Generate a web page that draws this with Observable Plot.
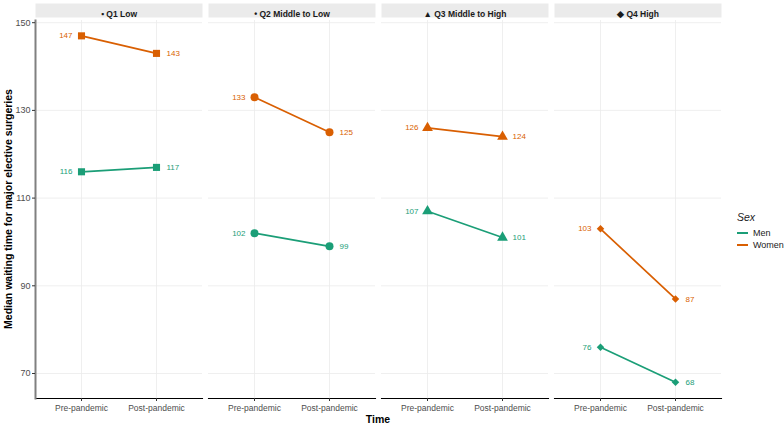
<!DOCTYPE html>
<html>
<head>
<meta charset="utf-8">
<script src="https://cdn.jsdelivr.net/npm/d3@7"></script>
<script src="https://cdn.jsdelivr.net/npm/@observablehq/plot@0.6"></script>
<style>
  body { margin: 0; background: #fff; font-family: "Liberation Sans", Arial, sans-serif; }
  #wrap { position: relative; width: 784px; height: 428px; }
  #wrap svg { position: absolute; left: 0; top: 0; }
  .ytitle { position: absolute; left: 8px; top: 209px; transform: translate(-50%, -50%) rotate(-90deg);
            font-weight: bold; font-size: 10.5px; white-space: nowrap; color: #000; }
  .xtitle { position: absolute; left: 378px; top: 419px; transform: translate(-50%, -50%);
            font-weight: bold; font-size: 10.5px; color: #000; }
  .legend { position: absolute; left: 737px; top: 211px; font-size: 9px; color: #222; }
  .legend .title { font-style: italic; font-size: 10.5px; margin-bottom: 4px; }
  .legend .item { display: flex; align-items: center; height: 12px; }
  .legend .sw { width: 11px; height: 2px; margin-right: 5px; }
</style>
</head>
<body>
<div id="wrap"></div>
<script>
// Income quartiles (facets) and their strip labels
const quartiles = ["Q1 Low", "Q2 Middle to Low", "Q3 Middle to High", "Q4 High"];
const stripLabels = ["\u25AA Q1 Low", "\u2022 Q2 Middle to Low", "\u25B2 Q3 Middle to High", "\u25C6 Q4 High"];
const quartileSymbols = ["square", "circle", "triangle", "diamond2"];
const times = ["Pre-pandemic", "Post-pandemic"];
const sexes = ["Men", "Women"];
const sexColors = ["#1b9e77", "#d95f02"];
const yTicks = [70, 90, 110, 130, 150];

// Median waiting time (days) per quartile
const menPre = [116, 102, 107, 76];
const menPost = [117, 99, 101, 68];
const womenPre = [147, 133, 126, 103];
const womenPost = [143, 125, 124, 87];

const rows = [];
quartiles.forEach((q, i) => {
  rows.push({q, sex: "Men", time: times[0], value: menPre[i]});
  rows.push({q, sex: "Men", time: times[1], value: menPost[i]});
  rows.push({q, sex: "Women", time: times[0], value: womenPre[i]});
  rows.push({q, sex: "Women", time: times[1], value: womenPost[i]});
});
const pre = rows.filter(d => d.time === times[0]);
const post = rows.filter(d => d.time === times[1]);

const W = 784, H = 428, mt = 20, mb = 30, ml = 34, mr = 61;
const plotH = H - mt - mb;

const chart = Plot.plot({
  width: W, height: H,
  marginTop: mt, marginBottom: mb, marginLeft: ml, marginRight: mr,
  style: { fontFamily: "Liberation Sans, Arial, sans-serif", background: "transparent" },
  fx: { domain: quartiles, paddingInner: 0.033, paddingOuter: 0, axis: null, label: null },
  x: { type: "point", domain: times, padding: 0.6, label: null },
  y: { domain: [64.3, 150.5], label: null },
  color: { domain: sexes, range: sexColors },
  symbol: { domain: quartiles, range: quartileSymbols },
  r: { type: "identity" },
  marks: [
    // strip backgrounds above each panel
    Plot.frame({ fill: "#ebebeb", stroke: null, insetTop: -17, insetBottom: plotH + 3 }),
    Plot.gridY(yTicks, { stroke: "#ebebeb", strokeOpacity: 1, strokeWidth: 0.8 }),
    Plot.gridX({ stroke: "#ebebeb", strokeOpacity: 1, strokeWidth: 0.8 }),
    Plot.frame({ anchor: "bottom", stroke: "#000", strokeWidth: 1.1 }),
    Plot.frame({ anchor: "left", facetAnchor: "left", stroke: "#808080", strokeWidth: 2 }),
    Plot.axisY({ ticks: yTicks, tickSize: 3, tickPadding: 2, fontSize: 9, fill: "#4d4d4d", stroke: "#333", label: null }),
    Plot.axisX({ tickSize: 3, tickPadding: 3, fontSize: 8.5, fill: "#4d4d4d", stroke: "#333", label: null }),
    Plot.line(rows, { fx: "q", x: "time", y: "value", z: "sex", stroke: "sex", strokeWidth: 1.7 }),
    Plot.dot(rows, { fx: "q", x: "time", y: "value", fill: "sex", stroke: null, symbol: "q",
                     r: d => d.q === "Q4 High" ? 3.4 : 4 }),
    Plot.text(pre, { fx: "q", x: "time", y: "value", text: "value", fill: "sex",
                     dx: -9, textAnchor: "end", fontSize: 8 }),
    Plot.text(post, { fx: "q", x: "time", y: "value", text: "value", fill: "sex",
                      dx: 10, textAnchor: "start", fontSize: 8 }),
    Plot.text(quartiles, { fx: d => d, text: (d, i) => stripLabels[i], frameAnchor: "top",
                           dy: -10, fontWeight: "bold", fontSize: 8.5, fill: "#1a1a1a" })
  ]
});

const wrap = document.getElementById("wrap");
wrap.appendChild(chart);

const yt = document.createElement("div");
yt.className = "ytitle";
yt.textContent = "Median waiting time for major elective surgeries";
wrap.appendChild(yt);

const xt = document.createElement("div");
xt.className = "xtitle";
xt.textContent = "Time";
wrap.appendChild(xt);

const lg = document.createElement("div");
lg.className = "legend";
lg.innerHTML = '<div class="title">Sex</div>' + sexes.map((s, i) =>
  `<div class="item"><span class="sw" style="background:${sexColors[i]}"></span>${s}</div>`).join("");
wrap.appendChild(lg);
</script>
</body>
</html>
